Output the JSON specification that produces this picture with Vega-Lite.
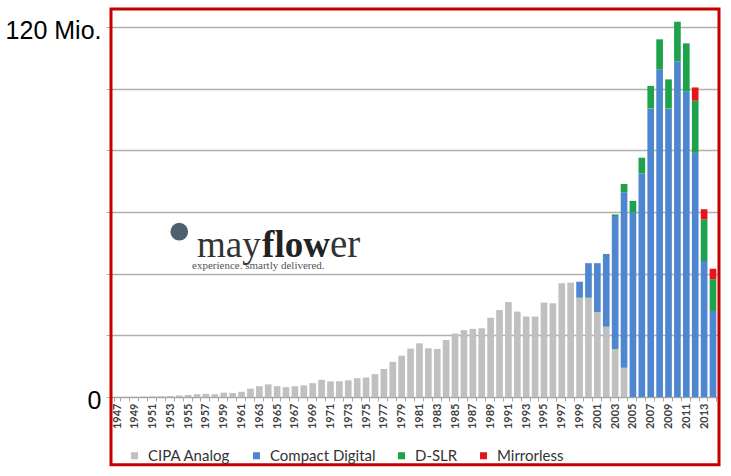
{
  "$schema": "https://vega.github.io/schema/vega-lite/v6.json",
  "width": 608,
  "height": 370,
  "padding": {"left": 5, "top": 7, "right": 5, "bottom": 5},
  "background": "white",
  "config": {"view": {"stroke": null}, "font": "Liberation Sans"},
  "datasets": {
    "cameras": [
      {"year": 1947, "type": "CIPA Analog", "units": 0.05},
      {"year": 1948, "type": "CIPA Analog", "units": 0.07},
      {"year": 1949, "type": "CIPA Analog", "units": 0.1},
      {"year": 1950, "type": "CIPA Analog", "units": 0.15},
      {"year": 1951, "type": "CIPA Analog", "units": 0.2},
      {"year": 1952, "type": "CIPA Analog", "units": 0.25},
      {"year": 1953, "type": "CIPA Analog", "units": 0.3},
      {"year": 1954, "type": "CIPA Analog", "units": 0.5},
      {"year": 1955, "type": "CIPA Analog", "units": 0.65},
      {"year": 1956, "type": "CIPA Analog", "units": 0.9},
      {"year": 1957, "type": "CIPA Analog", "units": 1.0},
      {"year": 1958, "type": "CIPA Analog", "units": 0.9},
      {"year": 1959, "type": "CIPA Analog", "units": 1.4},
      {"year": 1960, "type": "CIPA Analog", "units": 1.3},
      {"year": 1961, "type": "CIPA Analog", "units": 1.7},
      {"year": 1962, "type": "CIPA Analog", "units": 2.7},
      {"year": 1963, "type": "CIPA Analog", "units": 3.5},
      {"year": 1964, "type": "CIPA Analog", "units": 4.1},
      {"year": 1965, "type": "CIPA Analog", "units": 3.5},
      {"year": 1966, "type": "CIPA Analog", "units": 3.2},
      {"year": 1967, "type": "CIPA Analog", "units": 3.5},
      {"year": 1968, "type": "CIPA Analog", "units": 3.8},
      {"year": 1969, "type": "CIPA Analog", "units": 4.5},
      {"year": 1970, "type": "CIPA Analog", "units": 5.6},
      {"year": 1971, "type": "CIPA Analog", "units": 5.1},
      {"year": 1972, "type": "CIPA Analog", "units": 5.1},
      {"year": 1973, "type": "CIPA Analog", "units": 5.4},
      {"year": 1974, "type": "CIPA Analog", "units": 6.1},
      {"year": 1975, "type": "CIPA Analog", "units": 6.3},
      {"year": 1976, "type": "CIPA Analog", "units": 7.4},
      {"year": 1977, "type": "CIPA Analog", "units": 9.1},
      {"year": 1978, "type": "CIPA Analog", "units": 11.4},
      {"year": 1979, "type": "CIPA Analog", "units": 13.4},
      {"year": 1980, "type": "CIPA Analog", "units": 15.7},
      {"year": 1981, "type": "CIPA Analog", "units": 17.4},
      {"year": 1982, "type": "CIPA Analog", "units": 15.8},
      {"year": 1983, "type": "CIPA Analog", "units": 15.6},
      {"year": 1984, "type": "CIPA Analog", "units": 18.5},
      {"year": 1985, "type": "CIPA Analog", "units": 20.6},
      {"year": 1986, "type": "CIPA Analog", "units": 21.7},
      {"year": 1987, "type": "CIPA Analog", "units": 22.1},
      {"year": 1988, "type": "CIPA Analog", "units": 22.3},
      {"year": 1989, "type": "CIPA Analog", "units": 25.7},
      {"year": 1990, "type": "CIPA Analog", "units": 28.2},
      {"year": 1991, "type": "CIPA Analog", "units": 30.8},
      {"year": 1992, "type": "CIPA Analog", "units": 27.7},
      {"year": 1993, "type": "CIPA Analog", "units": 26.1},
      {"year": 1994, "type": "CIPA Analog", "units": 26.1},
      {"year": 1995, "type": "CIPA Analog", "units": 30.6},
      {"year": 1996, "type": "CIPA Analog", "units": 30.4},
      {"year": 1997, "type": "CIPA Analog", "units": 36.9},
      {"year": 1998, "type": "CIPA Analog", "units": 37.1},
      {"year": 1999, "type": "CIPA Analog", "units": 32.2},
      {"year": 2000, "type": "CIPA Analog", "units": 32.2},
      {"year": 2001, "type": "CIPA Analog", "units": 27.5},
      {"year": 2002, "type": "CIPA Analog", "units": 22.8},
      {"year": 2003, "type": "CIPA Analog", "units": 15.6},
      {"year": 2004, "type": "CIPA Analog", "units": 9.5},
      {"year": 1999, "type": "Compact Digital", "units": 5.2},
      {"year": 2000, "type": "Compact Digital", "units": 11.2},
      {"year": 2001, "type": "Compact Digital", "units": 15.9},
      {"year": 2002, "type": "Compact Digital", "units": 23.6},
      {"year": 2003, "type": "Compact Digital", "units": 43.1},
      {"year": 2004, "type": "Compact Digital", "units": 56.9},
      {"year": 2005, "type": "Compact Digital", "units": 59.8},
      {"year": 2006, "type": "Compact Digital", "units": 72.5},
      {"year": 2007, "type": "Compact Digital", "units": 93.6},
      {"year": 2008, "type": "Compact Digital", "units": 106.3},
      {"year": 2009, "type": "Compact Digital", "units": 93.6},
      {"year": 2010, "type": "Compact Digital", "units": 108.8},
      {"year": 2011, "type": "Compact Digital", "units": 99.0},
      {"year": 2012, "type": "Compact Digital", "units": 79.2},
      {"year": 2013, "type": "Compact Digital", "units": 44.1},
      {"year": 2014, "type": "Compact Digital", "units": 27.9},
      {"year": 2003, "type": "D-SLR", "units": 0.5},
      {"year": 2004, "type": "D-SLR", "units": 2.7},
      {"year": 2005, "type": "D-SLR", "units": 3.8},
      {"year": 2006, "type": "D-SLR", "units": 5.1},
      {"year": 2007, "type": "D-SLR", "units": 7.3},
      {"year": 2008, "type": "D-SLR", "units": 9.7},
      {"year": 2009, "type": "D-SLR", "units": 9.4},
      {"year": 2010, "type": "D-SLR", "units": 12.9},
      {"year": 2011, "type": "D-SLR", "units": 15.7},
      {"year": 2012, "type": "D-SLR", "units": 16.9},
      {"year": 2013, "type": "D-SLR", "units": 13.5},
      {"year": 2014, "type": "D-SLR", "units": 10.3},
      {"year": 2012, "type": "Mirrorless", "units": 4.3},
      {"year": 2013, "type": "Mirrorless", "units": 3.3},
      {"year": 2014, "type": "Mirrorless", "units": 3.4}
    ]
  },
  "layer": [
    {
      "data": {"name": "cameras"},
      "mark": {"type": "bar"},
      "encoding": {
        "x": {
          "field": "year",
          "type": "ordinal",
          "title": null,
          "scale": {"paddingInner": 0.25, "paddingOuter": 0.3},
          "axis": {
            "labelAngle": -90,
            "labelExpr": "datum.value % 2 == 1 ? datum.label : ''",
            "labelFont": "Lato",
            "labelFontSize": 11,
            "labelFontWeight": "bold",
            "labelColor": "#404040",
            "labelPadding": 2,
            "labelOverlap": false,
            "tickBand": "extent",
            "tickSize": 4,
            "tickColor": "#a6a6a6",
            "domainColor": "#a6a6a6"
          }
        },
        "y": {
          "field": "units",
          "type": "quantitative",
          "stack": "zero",
          "title": null,
          "scale": {"domain": [0, 120], "nice": false},
          "axis": {
            "values": [0, 20, 40, 60, 80, 100, 120],
            "labelExpr": "datum.value == 120 ? '120 Mio.' : (datum.value == 0 ? '0' : '')",
            "labelFont": "Liberation Sans",
            "labelFontSize": 25,
            "labelColor": "#000000",
            "labelPadding": 5,
            "labelOffset": 3,
            "gridColor": "#b0b0b0",
            "gridWidth": 1.5,
            "tickColor": "#b0b0b0",
            "tickSize": 5,
            "domainColor": "#b8b8b8"
          }
        },
        "order": {"field": "type", "type": "nominal", "sort": "ascending"},
        "color": {
          "field": "type",
          "type": "nominal",
          "scale": {
            "domain": ["CIPA Analog", "Compact Digital", "D-SLR", "Mirrorless"],
            "range": ["#c0c0c0", "#4f86d0", "#1ea24c", "#e3161c"]
          },
          "legend": {
            "orient": "none",
            "legendX": 16,
            "legendY": 421,
            "direction": "horizontal",
            "title": null,
            "symbolType": "square",
            "symbolSize": 50,
            "symbolStrokeWidth": 0,
            "labelFont": "Lato",
            "labelFontSize": 15,
            "labelColor": "#333333",
            "labelOffset": 6,
            "columnPadding": 18
          }
        }
      }
    },
    {
      "data": {"values": [{}]},
      "mark": {"type": "rect", "filled": false, "stroke": "#c40000", "strokeWidth": 3},
      "encoding": {"y": {"datum": 125.8}, "y2": {"datum": -22}}
    },
    {
      "data": {"values": [{}]},
      "mark": {"type": "circle", "color": "#4e5f6e", "size": 314, "opacity": 1},
      "encoding": {"x": {"datum": 1954, "type": "ordinal"}, "y": {"datum": 53.6}}
    },
    {
      "data": {"values": [{}]},
      "mark": {"type": "text", "text": "may", "font": "Liberation Serif", "fontSize": 37, "align": "left", "baseline": "alphabetic", "color": "#333333"},
      "encoding": {"x": {"datum": 1956, "type": "ordinal"}, "y": {"datum": 45.3}}
    },
    {
      "data": {"values": [{}]},
      "mark": {"type": "text", "text": "flow", "font": "Liberation Serif", "fontSize": 37, "fontWeight": "bold", "align": "left", "baseline": "alphabetic", "color": "#222222", "dx": 65},
      "encoding": {"x": {"datum": 1956, "type": "ordinal"}, "y": {"datum": 45.3}}
    },
    {
      "data": {"values": [{}]},
      "mark": {"type": "text", "text": "er", "font": "Liberation Serif", "fontSize": 39, "align": "left", "baseline": "alphabetic", "color": "#333333", "dx": 133},
      "encoding": {"x": {"datum": 1956, "type": "ordinal"}, "y": {"datum": 45.3}}
    },
    {
      "data": {"values": [{}]},
      "mark": {"type": "text", "text": "experience.    smartly delivered.", "font": "Liberation Serif", "fontSize": 11, "align": "left", "baseline": "alphabetic", "color": "#555555", "dx": -5},
      "encoding": {"x": {"datum": 1956, "type": "ordinal"}, "y": {"datum": 41.4}}
    }
  ]
}
